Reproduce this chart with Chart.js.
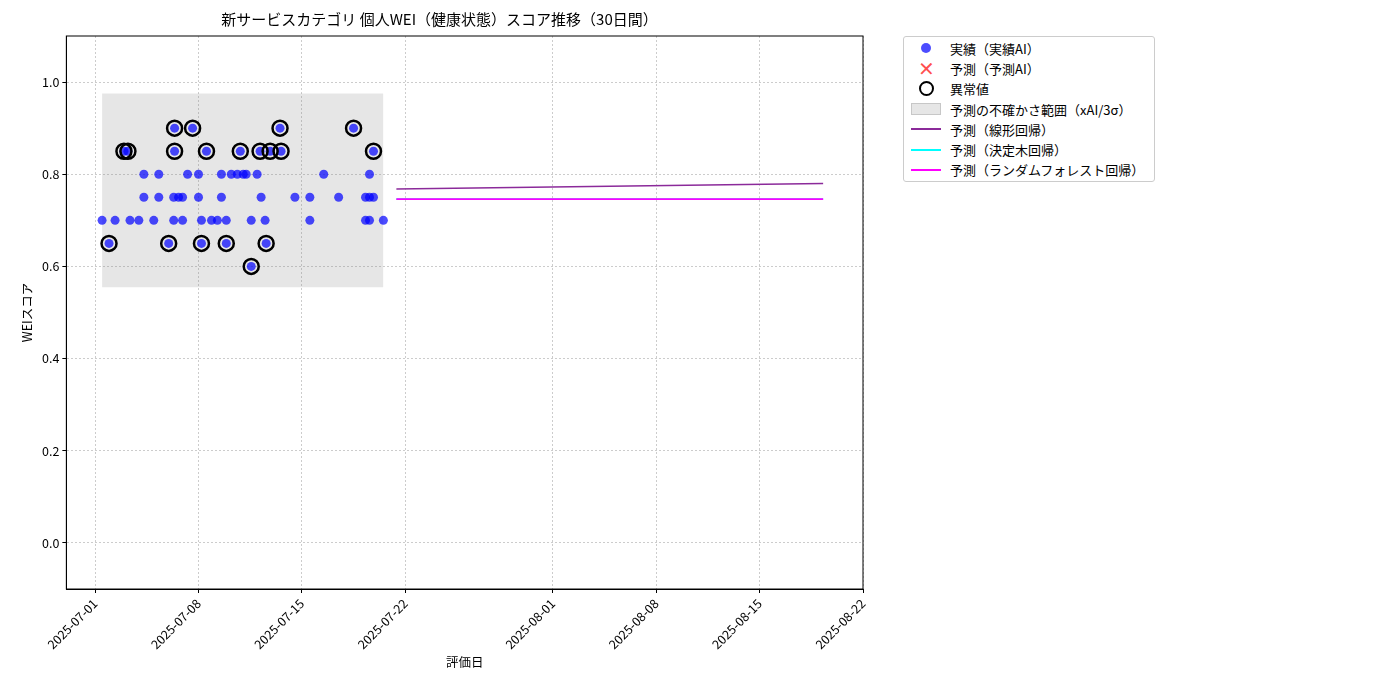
<!DOCTYPE html>
<html><head><meta charset="utf-8">
<script src="https://cdn.jsdelivr.net/npm/chart.js@4/dist/chart.umd.min.js"></script>
<style>
body{margin:0;background:#fff;font-family:"Noto Sans CJK JP",sans-serif;}
#wrap{position:relative;width:1400px;height:700px;}
#legend{position:absolute;left:903px;top:36px;border:1px solid #ccc;border-radius:3px;padding:1px 10px 1px 6px;font-size:13px;color:#000;background:#fff;}
.row{display:flex;align-items:center;height:20.3px;}
.sym{width:32px;height:14px;display:flex;align-items:center;justify-content:center;margin-right:8px;}
</style></head><body>
<div id="wrap"><canvas id="c" width="1400" height="700"></canvas>
<div id="legend">
<div class="row"><div class="sym"><span style="width:10px;height:10px;border-radius:50%;background:rgba(0,0,255,0.7)"></span></div>実績（実績AI）</div>
<div class="row"><div class="sym"><span style="color:rgba(255,0,0,0.7);font-size:20px;line-height:14px">✕</span></div>予測（予測AI）</div>
<div class="row"><div class="sym"><span style="width:11px;height:11px;border-radius:50%;border:2.5px solid #000"></span></div>異常値</div>
<div class="row"><div class="sym"><span style="width:28px;height:10px;background:rgba(128,128,128,0.2);border:1px solid rgba(128,128,128,0.3)"></span></div>予測の不確かさ範囲（xAI/3σ）</div>
<div class="row"><div class="sym"><span style="width:30px;height:2px;background:#8B2A9A"></span></div>予測（線形回帰）</div>
<div class="row"><div class="sym"><span style="width:30px;height:2px;background:#00FFFF"></span></div>予測（決定木回帰）</div>
<div class="row"><div class="sym"><span style="width:30px;height:2px;background:#FF00FF"></span></div>予測（ランダムフォレスト回帰）</div>
</div></div>
<script>
// x values: days since 2025-07-01
const actualX = [0.47,1.35,2.36,2.96,3.97,5.32,5.92,7.2,7.88,8.28,8.88,10.57,11.51,14.54,18.31,18.58,19.52,
 3.3,4.31,5.32,5.65,5.92,7.0,8.55,11.24,13.53,14.54,16.49,18.31,18.58,18.85,
 3.3,4.31,6.26,7.0,8.55,9.22,9.63,10.03,10.23,10.97,15.48,18.58,
 1.95,2.22,5.38,7.54,9.83,11.17,11.85,12.59,18.85,
 5.38,6.6,12.52,17.5,
 0.94,4.98,7.2,8.88,11.58,
 10.57];
const actualY = [0.7,0.7,0.7,0.7,0.7,0.7,0.7,0.7,0.7,0.7,0.7,0.7,0.7,0.7,0.7,0.7,0.7,
 0.75,0.75,0.75,0.75,0.75,0.75,0.75,0.75,0.75,0.75,0.75,0.75,0.75,0.75,
 0.8,0.8,0.8,0.8,0.8,0.8,0.8,0.8,0.8,0.8,0.8,0.8,
 0.85,0.85,0.85,0.85,0.85,0.85,0.85,0.85,0.85,
 0.9,0.9,0.9,0.9,
 0.65,0.65,0.65,0.65,0.65,
 0.6];
const bandX = [0.47,19.52];
const bandLow = 0.555, bandHigh = 0.975;
const predX = [20.4,49.3];
const linearY = [0.768,0.780];
const treeY = [0.746,0.746];
const forestY = [0.746,0.746];
const tickDays = [0,7,14,21,31,38,45,52];
const tickLabels = ["2025-07-01","2025-07-08","2025-07-15","2025-07-22","2025-08-01","2025-08-08","2025-08-15","2025-08-22"];

const pts = actualX.map((x,i)=>({x,y:actualY[i]}));
const outl = pts.filter(p=>p.y>=0.85||p.y<=0.65);
const F = "'Noto Sans CJK JP', sans-serif";
Chart.defaults.font.family = F;
Chart.defaults.color = '#000';
new Chart(document.getElementById('c'),{
 type:'scatter',
 data:{datasets:[
  {data:outl,pointRadius:7.5,pointBorderWidth:2.5,pointBorderColor:'#000',pointBackgroundColor:'rgba(0,0,0,0)',order:0},
  {data:pts,pointRadius:4.5,pointBorderWidth:0,pointBackgroundColor:'rgba(0,0,255,0.7)',order:1},
  {type:'line',data:[{x:bandX[0],y:bandHigh},{x:bandX[1],y:bandHigh}],fill:{target:{value:bandLow}},backgroundColor:'rgba(128,128,128,0.2)',borderWidth:0,pointRadius:0,order:5},
  {type:'line',data:predX.map((x,i)=>({x,y:linearY[i]})),borderColor:'#8B2A9A',borderWidth:1.6,pointRadius:0,order:3},
  {type:'line',data:predX.map((x,i)=>({x,y:treeY[i]})),borderColor:'#00FFFF',borderWidth:1.6,pointRadius:0,order:3},
  {type:'line',data:predX.map((x,i)=>({x,y:forestY[i]})),borderColor:'#FF00FF',borderWidth:1.6,pointRadius:0,order:2}
 ]},
 options:{responsive:false,animation:false,
  layout:{padding:{left:16,right:537,top:0,bottom:26}},
  plugins:{legend:{display:false},tooltip:{enabled:false},
   title:{display:true,text:'新サービスカテゴリ 個人WEI（健康状態）スコア推移（30日間）',font:{size:15,weight:'normal'},padding:{top:10,bottom:8}}},
  scales:{
   x:{type:'linear',min:-1.95,max:52,
    afterBuildTicks:a=>{a.ticks=tickDays.map(v=>({value:v}));},
    ticks:{callback:(v)=>{const i=tickDays.indexOf(v);return i>=0?tickLabels[i]:'';},maxRotation:45,minRotation:45,font:{size:12.5},autoSkip:false},
    grid:{color:'#ccc',tickColor:'#000',tickLength:4},
    border:{color:'#000',dash:[2,2]},
    title:{display:true,text:'評価日',font:{size:12.5},padding:{top:0}}},
   y:{min:-0.1,max:1.1,
    afterBuildTicks:a=>{a.ticks=[0,0.2,0.4,0.6,0.8,1.0].map(v=>({value:v}));},
    ticks:{callback:v=>v.toFixed(1),font:{size:12.5}},
    grid:{color:'#ccc',tickColor:'#000',tickLength:4},
    border:{color:'#000',dash:[2,2]},
    title:{display:true,text:'WEIスコア',font:{size:12.5}}}
  }},
 plugins:[{id:'frame',afterDraw(c){const a=c.chartArea,x=c.ctx;x.save();x.strokeStyle='#000';x.lineWidth=1;x.setLineDash([]);x.strokeRect(a.left,a.top,a.right-a.left,a.bottom-a.top);x.restore();}}]
});
</script></body></html>
